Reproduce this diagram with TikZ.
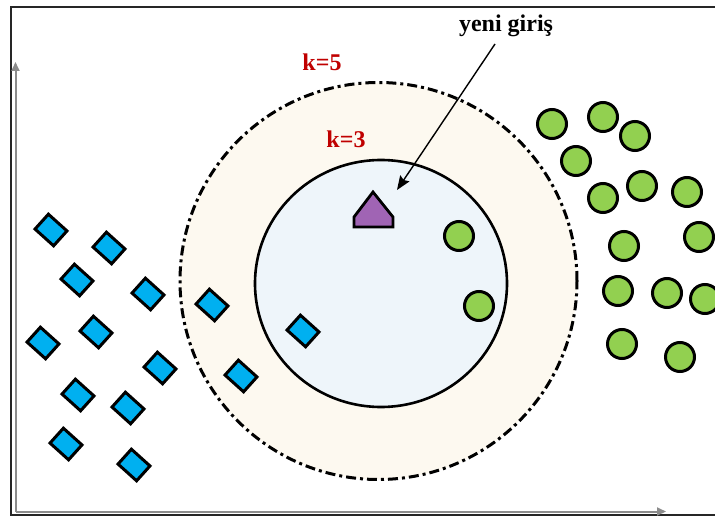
\documentclass[tikz,border=0pt]{standalone}
\usepackage{fontspec}
\setmainfont{Liberation Serif}
\usetikzlibrary{arrows.meta,shapes.geometric}

\definecolor{redlbl}{HTML}{C00000}
\definecolor{outerfill}{HTML}{FDF9F0}
\definecolor{innerfill}{HTML}{EEF5FA}
\definecolor{classA}{HTML}{00B0F0}
\definecolor{classB}{HTML}{92D050}
\definecolor{newpt}{HTML}{A064B4}
\definecolor{axisgray}{HTML}{8C8C8C}

\tikzset{
  sample/.style={draw=black, line width=3pt, inner sep=0pt},
  bluept/.style={sample, rectangle, fill=classA, minimum width=25pt, minimum height=20pt, rotate=-42},
  greenpt/.style={sample, circle, fill=classB, minimum size=29pt},
  klabel/.style={font=\bfseries\fontsize{24}{26}\selectfont, text=redlbl, inner sep=0pt},
  axisline/.style={draw=axisgray, line width=2pt, -{Triangle[length=9pt,width=8pt]}},
}

\begin{document}
\begin{tikzpicture}[x=1pt,y=-1pt]
  \useasboundingbox (0,0) rectangle (715,516);
  \clip (0,0) rectangle (715,516);

  % frame
  \draw[line width=1.4pt, draw=black!85] (11,7) rectangle (730,515);

  % axes
  \coordinate (origin) at (15.5,511.5);
  \coordinate (ytip) at (15.5,62);
  \coordinate (xtip) at (666,511.5);
  \draw[axisline] (origin) -- (ytip);
  \draw[axisline] (origin) -- (xtip);

  % neighbourhoods
  \node[circle, draw=black, fill=outerfill, line width=3pt,
        dash pattern=on 10pt off 4pt on 3pt off 4pt,
        minimum size=397pt, inner sep=0pt] (k5) at (378.5,281) {};
  \node[ellipse, draw=black, fill=innerfill, line width=2.6pt,
        minimum width=252pt, minimum height=247pt, inner sep=0pt] (k3) at (381,283.5) {};

  % class A samples
  \foreach \n/\x/\y in {a1/51/230, a2/109/248, a3/77/280, a4/148/294, a5/96/332,
                        a6/43/343, a7/160/368, a8/78/395, a9/128/408, a10/66/444,
                        a11/134/465, a12/212/305, a13/303/331, a14/241/376}
    \node[bluept] (\n) at (\x,\y) {};

  % class B samples
  \foreach \n/\x/\y in {b1/552/124, b2/603/117, b3/635/136, b4/576/161, b5/603/198,
                        b6/642/186, b7/687/192, b8/624/246, b9/699/237, b10/618/291,
                        b11/667/293, b12/705/299, b13/622/344, b14/680/357,
                        b15/459/236, b16/479/306}
    \node[greenpt] (\n) at (\x,\y) {};

  % new sample
  \draw[fill=newpt, draw=black, line width=2.8pt, line join=miter]
    (354,227) -- (354,217) -- (373,192) -- (393,217) -- (393,227) -- cycle;

  % labels
  \node[klabel] (lk5) at (322,62) {k=5};
  \node[klabel] (lk3) at (346,139) {k=3};
  \node[font=\bfseries\fontsize{24}{26}\selectfont, inner sep=0pt] (lnew) at (506,26) {yeni giriş};

  \coordinate (tail) at (495,44);
  \coordinate (tip) at (397,190);
  \draw[line width=1.4pt, -{Stealth[length=14pt,width=11pt,inset=2pt]}] (tail) -- (tip);
\end{tikzpicture}
\end{document}
